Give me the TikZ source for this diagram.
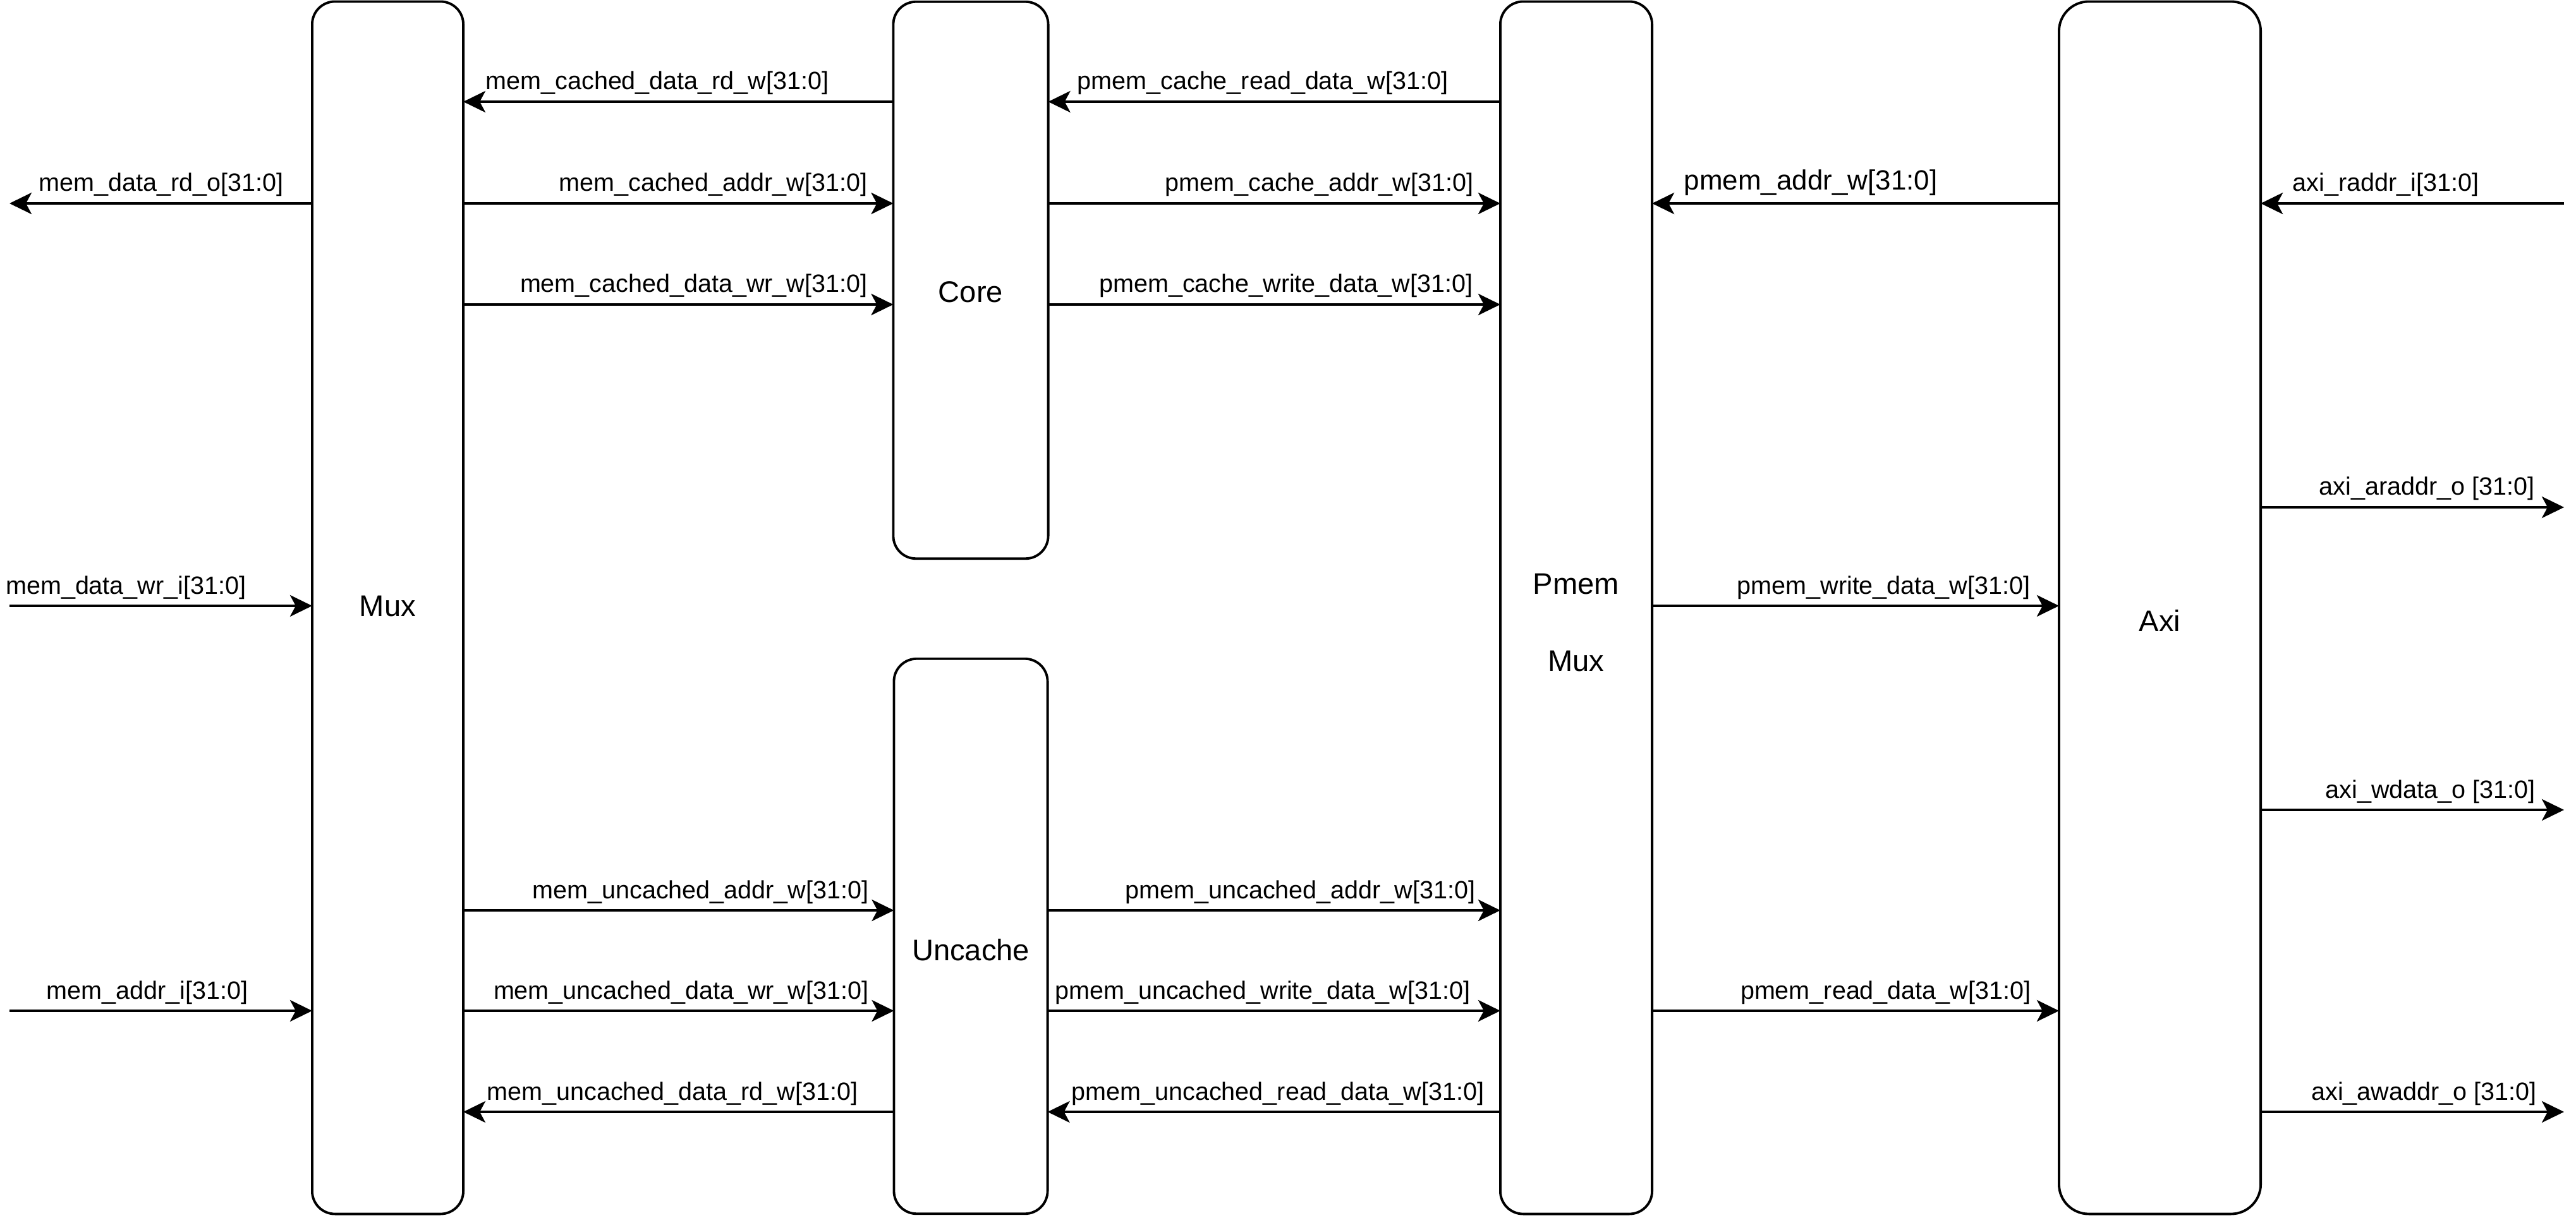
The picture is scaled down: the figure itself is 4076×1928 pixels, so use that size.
\documentclass[tikz,border=0pt]{standalone}
\usepackage{fontspec}
\setmainfont{Liberation Sans}
\usetikzlibrary{arrows.meta}
\begin{document}
\begin{tikzpicture}[x=0.01cm,y=-0.01cm,
  blk/.style={draw, line width=1.1pt, rounded corners=0.36cm, inner sep=0pt, outer sep=0pt},
  arr/.style={line width=1.1pt, -{Stealth[length=0.35cm,width=0.34cm,inset=0.09cm]}},
  sig/.style={inner sep=0pt, font=\fontsize{11.24}{13}\selectfont},
  sigr/.style={sig, anchor=base east},
  sigl/.style={sig, anchor=base west},
  ttl/.style={inner sep=0pt, font=\fontsize{13.4}{16}\selectfont, anchor=base}]
\useasboundingbox (0,0) rectangle (4076,1928);

% blocks
\node[blk, minimum width=2.39cm, minimum height=19.18cm] (mux) at (613.5,962) {};
\node[blk, minimum width=2.45cm, minimum height=8.81cm] (core) at (1536,443.5) {};
\node[blk, minimum width=2.43cm, minimum height=8.78cm] (unc) at (1536,1482) {};
\node[blk, minimum width=2.40cm, minimum height=19.18cm] (pmem) at (2494,962) {};
\node[blk, rounded corners=0.47cm, minimum width=3.19cm, minimum height=19.18cm] (axi) at (3417.5,962) {};

\node[ttl] (muxt) at (613.5,975) {Mux};
\node[ttl] (coret) at (1536,479) {Core};
\node[ttl] (unct) at (1536,1520) {Uncache};
\node[ttl] (pmemta) at (2494,940) {Pmem};
\node[ttl] (pmemtb) at (2494,1062) {Mux};
\node[ttl] (axit) at (3417.5,999) {Axi};

% rows
\coordinate (r1) at (0,161);
\coordinate (r2) at (0,322);
\coordinate (r3) at (0,482);
\coordinate (ra) at (0,803);
\coordinate (rm) at (0,959);
\coordinate (rw) at (0,1282);
\coordinate (u1) at (0,1441);
\coordinate (u2) at (0,1600);
\coordinate (u3) at (0,1760);

% free ends
\coordinate (memrd) at (15,322);
\coordinate (memwr) at (15,959);
\coordinate (memad) at (15,1600);
\coordinate (axiri) at (4057,322);
\coordinate (axiar) at (4057,803);
\coordinate (axiwd) at (4057,1282);
\coordinate (axiaw) at (4057,1760);

% connectors
\draw[arr] (mux.west |- r2) -- (memrd);
\draw[arr] (memwr) -- (mux.west |- rm);
\draw[arr] (memad) -- (mux.west |- u2);

\draw[arr] (core.west |- r1) -- (mux.east |- r1);
\draw[arr] (mux.east |- r2) -- (core.west |- r2);
\draw[arr] (mux.east |- r3) -- (core.west |- r3);
\draw[arr] (mux.east |- u1) -- (unc.west |- u1);
\draw[arr] (mux.east |- u2) -- (unc.west |- u2);
\draw[arr] (unc.west |- u3) -- (mux.east |- u3);

\draw[arr] (pmem.west |- r1) -- (core.east |- r1);
\draw[arr] (core.east |- r2) -- (pmem.west |- r2);
\draw[arr] (core.east |- r3) -- (pmem.west |- r3);
\draw[arr] (unc.east |- u1) -- (pmem.west |- u1);
\draw[arr] (unc.east |- u2) -- (pmem.west |- u2);
\draw[arr] (pmem.west |- u3) -- (unc.east |- u3);

\draw[arr] (axi.west |- r2) -- (pmem.east |- r2);
\draw[arr] (pmem.east |- rm) -- (axi.west |- rm);
\draw[arr] (pmem.east |- u2) -- (axi.west |- u2);

\draw[arr] (axiri) -- (axi.east |- axiri);
\draw[arr] (axi.east |- axiar) -- (axiar);
\draw[arr] (axi.east |- axiwd) -- (axiwd);
\draw[arr] (axi.east |- axiaw) -- (axiaw);

% labels
\node[sigl] (t1) at (61,303) {mem\_data\_rd\_o[31:0]};
\node[sigr] (t2) at (390,940) {mem\_data\_wr\_i[31:0]};
\node[sigr] (t3) at (393,1581) {mem\_addr\_i[31:0]};

\node[sigl] (t4) at (768,142) {mem\_cached\_data\_rd\_w[31:0]};
\node[sigr] (t5) at (1373,303) {mem\_cached\_addr\_w[31:0]};
\node[sigr] (t6) at (1373,463) {mem\_cached\_data\_wr\_w[31:0]};
\node[sigr] (t7) at (1375,1422) {mem\_uncached\_addr\_w[31:0]};
\node[sigr] (t8) at (1375,1581) {mem\_uncached\_data\_wr\_w[31:0]};
\node[sigl] (t9) at (770,1741) {mem\_uncached\_data\_rd\_w[31:0]};

\node[sigl] (t10) at (1704,142) {pmem\_cache\_read\_data\_w[31:0]};
\node[sigr] (t11) at (2332,303) {pmem\_cache\_addr\_w[31:0]};
\node[sigr] (t12) at (2331,463) {pmem\_cache\_write\_data\_w[31:0]};
\node[sigr] (t13) at (2335,1422) {pmem\_uncached\_addr\_w[31:0]};
\node[sigr] (t14) at (2327,1581) {pmem\_uncached\_write\_data\_w[31:0]};
\node[sigl] (t15) at (1695,1741) {pmem\_uncached\_read\_data\_w[31:0]};

\node[sigl, font=\fontsize{12.5}{15}\selectfont] (t16) at (2664,301) {pmem\_addr\_w[31:0]};
\node[sigr] (t17) at (3213,940) {pmem\_write\_data\_w[31:0]};
\node[sigr] (t18) at (3214,1581) {pmem\_read\_data\_w[31:0]};

\node[sigl] (t19) at (3627,303) {axi\_raddr\_i[31:0]};
\node[sigr] (t20) at (4011,784) {axi\_araddr\_o [31:0]};
\node[sigr] (t21) at (4012,1263) {axi\_wdata\_o [31:0]};
\node[sigr] (t22) at (4014,1741) {axi\_awaddr\_o [31:0]};
\end{tikzpicture}
\end{document}
